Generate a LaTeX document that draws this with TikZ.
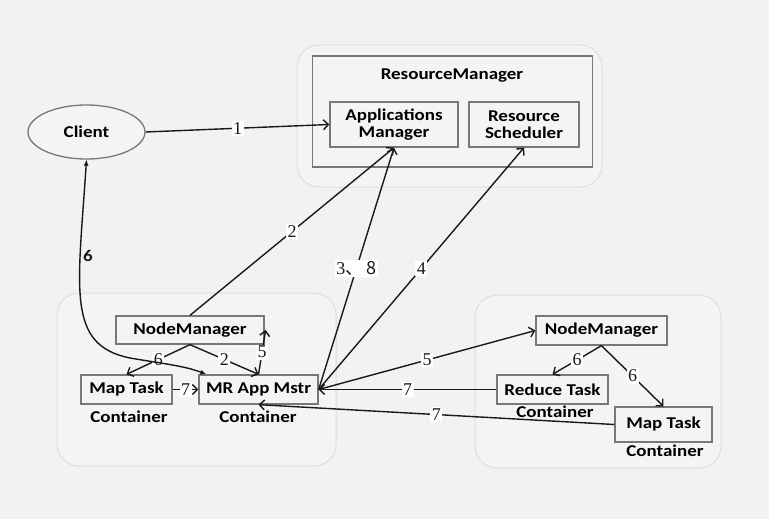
\documentclass[tikz,border=0pt]{standalone}
\usepackage{fontspec}
\setmainfont{Liberation Serif}
\newfontfamily\boxfont[FakeStretch=1.15]{Carlito}
\newfontfamily\cjk{Noto Sans CJK SC}
\usetikzlibrary{arrows.meta,calc,shapes.geometric}
\definecolor{bgcol}{RGB}{242,242,242}
\definecolor{groupfill}{RGB}{244,244,245}
\definecolor{groupline}{RGB}{218,222,230}
\definecolor{boxline}{RGB}{120,120,120}
\definecolor{inkcol}{RGB}{25,25,25}
\tikzset{
  group/.style={draw=groupline, fill=groupfill, line width=1pt, rounded corners=22pt},
  tbox/.style={draw=boxline, fill=groupfill, line width=1.3pt, inner sep=0pt,
    font=\boxfont\bfseries\fontsize{16.5}{17}\selectfont, align=center},
  ctext/.style={font=\boxfont\bfseries\fontsize{16.5}{17}\selectfont, inner sep=0pt},
  flow/.style={draw=inkcol, line width=1.4pt, -{Straight Barb[length=5pt,width=10pt]}},
  step label/.style={fill=white, inner sep=1.5pt, text=inkcol,
    font=\fontsize{18}{18}\selectfont},
}
\begin{document}
\begin{tikzpicture}[x=1pt,y=-1pt]
\fill[bgcol] (0,0) rectangle (769,519);
\useasboundingbox (0,0) rectangle (769,519);

% cluster backgrounds
\draw[group] (297,45) rectangle (602,187);
\draw[group] (57,293) rectangle (336,466);
\draw[group] (475,295) rectangle (721,468);

% ResourceManager and its two services
\node[tbox, minimum width=280pt, minimum height=111pt] (rm) at (452.5,111.5) {};
\node[ctext] (rmtitle) at (452,76) {ResourceManager};
\node[tbox, minimum width=128pt, minimum height=45pt] (am) at (394,124.5) {Applications\\Manager};
\node[tbox, minimum width=110pt, minimum height=45pt] (rs) at (524,124.5) {Resource\\Scheduler};

% client
\node[ellipse, draw=boxline, fill=groupfill, line width=1.3pt, minimum width=117pt,
  minimum height=54pt, inner sep=0pt, font=\boxfont\bfseries\fontsize{16.5}{17}\selectfont]
  (client) at (86.5,132) {Client};

% left node
\node[tbox, minimum width=148pt, minimum height=28pt] (nmL) at (190,330) {NodeManager};
\node[tbox, minimum width=91pt, minimum height=29pt] (mapL) at (126.5,389.5) {Map Task};
\node[tbox, minimum width=119pt, minimum height=29pt] (mr) at (258.5,389.5) {MR App Mstr};
\node[ctext] (cmapL) at (129,417) {Container};
\node[ctext] (cmr) at (258,417) {Container};

% right node
\node[tbox, minimum width=131pt, minimum height=29pt] (nmR) at (601.5,330.5) {NodeManager};
\node[tbox, minimum width=111pt, minimum height=29pt] (red) at (552.5,389.5) {Reduce Task};
\node[tbox, minimum width=97pt, minimum height=35pt] (mapR) at (663.5,424.5) {Map Task};
\node[ctext] (cred) at (555,412) {Container};
\node[ctext] (cmapR) at (665,451) {Container};

% job submission and registration
\draw[flow] (client.east) -- node[step label] {1} (am.west);
\draw[flow] (nmL.north) -- node[step label] {2} (am.south);
\draw[flow] (mr.east) -- node[step label] {3\cjk{、}\,8} (am.south);
\draw[flow] (mr.east) -- node[step label] {4} (rs.south);
\draw[flow] (mr.east) -- node[step label] {5} (nmR.west);
\draw[flow] (red.west) -- node[step label] {7} (mr.east);
\draw[flow] (mapR.west) -- node[step label] {7} (mr.south);

% inside the left node
\draw[flow] (nmL.south) -- node[step label] {6} (mapL.north);
\draw[flow] (nmL.south) -- node[step label] {2} (mr.north);
\draw[flow] (mr.north) -- node[step label] {5} ([xshift=1pt]nmL.east);
\draw[flow] (mapL.east) -- node[step label] {7} (mr.west);

% inside the right node
\draw[flow] (nmR.south) -- node[step label] {6} (red.north);
\draw[flow] (nmR.south) -- node[step label] {6} (mapR.north);

% client <-> application master
\draw[draw=inkcol, line width=1.4pt, {Latex[length=6pt,width=5pt]}-{Latex[length=6pt,width=5pt]}]
  (client.south) .. controls (78,290) and (66,345) .. (130,358)
  .. controls (165,364) and (185,366) .. ($(mr.north west)+(8,0)$);
\node[ctext, text=inkcol] (six) at (88,256) {6};
\end{tikzpicture}
\end{document}
